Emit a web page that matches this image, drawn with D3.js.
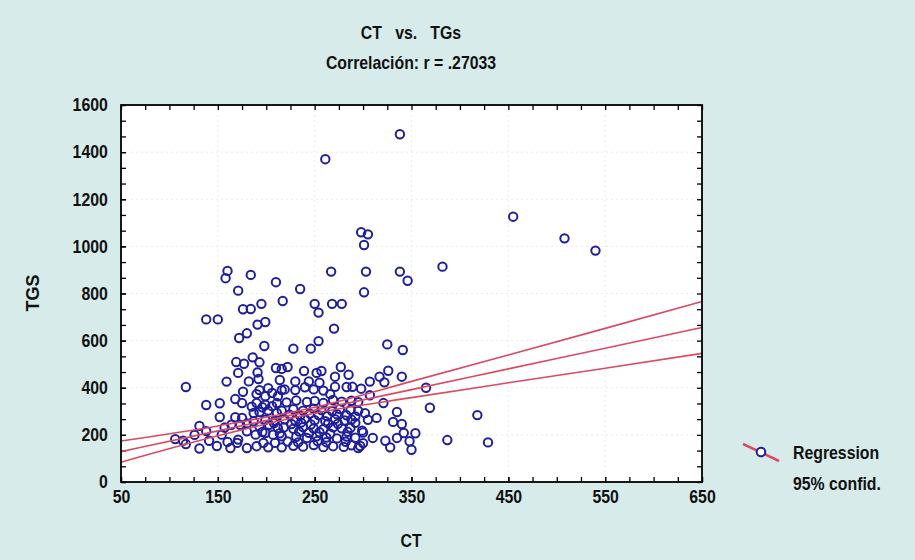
<!DOCTYPE html>
<html><head><meta charset="utf-8">
<script src="https://cdn.jsdelivr.net/npm/d3@7"></script>
<style>
body{margin:0;background:#d7ecea;}
svg{display:block;}
text{font-family:"Liberation Sans",Arial,sans-serif;font-weight:bold;fill:#111;}
</style></head><body>
<svg id="c" width="915" height="560"></svg>
<script>
// ---- data ----
const ctValues = [
 338,261,298,305,301,455,508,540,382,160,158,184,267,303,338,346,171,210,235,301,
 217,176,184,195,250,254,268,278,138,150,191,199,270,172,180,198,228,246,254,325,
 341,117,159,169,171,177,186,193,182,191,192,210,216,222,214,239,252,257,230,244,
 255,271,277,285,283,289,298,307,317,326,322,340,271,219,230,240,249,259,176,193,
 202,216,138,152,168,175,190,199,206,212,190,199,211,152,168,175,187,193,202,211,
 216,131,138,106,114,117,126,131,141,149,154,157,164,163,171,173,180,180,189,193,
 199,203,207,212,216,190,197,202,209,216,187,199,209,266,307,321,335,305,314,331,
 340,299,310,323,335,342,348,328,350,295,354,365,369,418,387,429,
 221,231,242,250,259,269,278,288,295,
 228,238,249,257,268,276,287,295,
 219,230,240,250,261,271,281,288,
 218,228,238,249,259,269,278,287,
 231,242,252,262,273,283,292,
 228,238,249,259,269,280,288,297,
 185,196,206,224,235,245,254,263,273,283,292,302,
 180,208,226,236,246,264,274,292,
 196,214,234,244,255,266,284,300,
 160,170,222,233,253,262,282,300
];
const tgsValues = [
 1476,1370,1060,1051,1006,1126,1034,982,914,896,865,879,893,893,893,854,812,848,819,805,
 768,733,734,756,756,719,756,756,690,690,668,679,651,611,631,577,566,566,598,584,
 560,403,426,509,463,502,529,508,427,465,437,484,480,488,433,471,463,471,427,427,
 421,447,488,455,403,404,396,426,447,472,423,447,404,393,390,402,393,388,383,390,
 398,390,327,334,352,335,373,364,378,364,335,328,335,276,275,272,293,297,303,293,
 303,238,216,182,175,161,200,142,175,153,201,231,243,144,180,243,215,144,201,236,
 208,243,201,229,194,152,166,147,166,147,258,264,260,373,368,335,297,264,272,255,
 246,218,187,175,187,208,173,147,137,144,207,400,315,284,178,168,
 338,346,340,344,336,348,341,345,339,
 309,303,311,305,301,310,306,302,
 266,260,268,262,258,267,261,265,
 231,226,233,227,224,232,228,230,
 192,187,194,189,185,193,188,
 154,150,157,148,152,149,156,153,
 320,317,322,286,281,290,284,279,288,283,278,292,
 248,250,246,252,244,249,247,251,
 212,207,214,209,211,205,213,210,
 170,166,172,168,174,169,171,165
];
const fitX   = [50, 150, 250, 350, 450, 550, 650];
const fitY   = [129, 217, 305, 392, 480, 568, 656];
const upperY = [174, 238, 317, 427, 539, 652, 766];
const lowerY = [84, 196, 292, 358, 421, 483, 546];
const xTicks = [50, 150, 250, 350, 450, 550, 650];
const yTicks = [0, 200, 400, 600, 800, 1000, 1200, 1400, 1600];
const titleText = "CT   vs.   TGs";
const subtitleText = "Correlación: r = .27033";
const xLabel = "CT", yLabel = "TGS";
const legendItems = ["Regression", "95% confid."];

// ---- layout ----
const L = 121, R = 702, T = 105, B = 482;
const FS = 18, SX = 0.88;
const svg = d3.select("#c");
const x = d3.scaleLinear().domain([50, 650]).range([L, R]);
const y = d3.scaleLinear().domain([0, 1600]).range([B, T]);

svg.append("rect").attr("x", L).attr("y", T).attr("width", R - L).attr("height", B - T).attr("fill", "#fff");

// faint grid
const g = svg.append("g").attr("stroke", "#ebebeb").attr("stroke-width", 1).attr("stroke-dasharray", "2,3");
g.selectAll(".gx").data(xTicks.slice(1, -1)).join("line")
  .attr("x1", d => x(d)).attr("x2", d => x(d)).attr("y1", T).attr("y2", B);
g.selectAll(".gy").data(yTicks.slice(1, -1)).join("line")
  .attr("y1", d => y(d)).attr("y2", d => y(d)).attr("x1", L).attr("x2", R);

// minor tick values
const xMinor = d3.range(50, 650.1, 25);
const yMinor = d3.range(0, 1600.1, 200 / 3);

function styleAxis(sel) {
  sel.select(".domain").remove();
  sel.selectAll("line").attr("stroke", "#000").attr("stroke-width", 1.3);
  sel.selectAll("text").attr("font-size", FS).attr("fill", "#111")
     .attr("font-family", '"Liberation Sans",Arial,sans-serif').attr("font-weight", "bold")
     .attr("transform", `scale(${SX},1)`);
}
// bottom
svg.append("g").attr("transform", `translate(0,${B})`)
  .call(d3.axisBottom(x).tickValues(xMinor).tickFormat("").tickSizeInner(-5).tickSizeOuter(0)).call(styleAxis);
svg.append("g").attr("transform", `translate(0,${B})`)
  .call(d3.axisBottom(x).tickValues(xTicks).tickFormat(d3.format("d")).tickSizeInner(-5).tickSizeOuter(0).tickPadding(8)).call(styleAxis);
// top
svg.append("g").attr("transform", `translate(0,${T})`)
  .call(d3.axisTop(x).tickValues(xMinor).tickFormat("").tickSizeInner(-5).tickSizeOuter(0)).call(styleAxis);
// left
svg.append("g").attr("transform", `translate(${L},0)`)
  .call(d3.axisLeft(y).tickValues(yMinor).tickFormat("").tickSizeInner(-5).tickSizeOuter(0)).call(styleAxis);
svg.append("g").attr("transform", `translate(${L},0)`)
  .call(d3.axisLeft(y).tickValues(yTicks).tickFormat(d3.format("d")).tickSizeInner(-5).tickSizeOuter(0).tickPadding(15)).call(styleAxis);
// right
svg.append("g").attr("transform", `translate(${R},0)`)
  .call(d3.axisRight(y).tickValues(yMinor).tickFormat("").tickSizeInner(-5).tickSizeOuter(0)).call(styleAxis);

// points
const pts = ctValues.map((c, i) => ({ c, t: tgsValues[i] }));
svg.append("g").selectAll("circle").data(pts).join("circle")
  .attr("cx", d => x(d.c)).attr("cy", d => y(d.t)).attr("r", 4.2)
  .attr("fill", "none").attr("stroke", "#1f1f9c").attr("stroke-width", 2);

// regression + confidence lines
const line = d3.line().x(d => x(d[0])).y(d => y(d[1])).curve(d3.curveMonotoneX);
[fitY, upperY, lowerY].forEach(arr => {
  svg.append("path").datum(fitX.map((v, i) => [v, arr[i]]))
    .attr("d", line).attr("fill", "none").attr("stroke", "#dc4a62").attr("stroke-width", 1.6);
});

// border
svg.append("rect").attr("x", L).attr("y", T).attr("width", R - L).attr("height", B - T)
  .attr("fill", "none").attr("stroke", "#000").attr("stroke-width", 1.8);

// free text helper (horizontally condensed)
function label(px, py, str, anchor, rot) {
  return svg.append("text")
    .attr("transform", `translate(${px},${py})${rot ? " rotate(" + rot + ")" : ""} scale(${SX},1)`)
    .attr("text-anchor", anchor).attr("font-size", FS).style("white-space", "pre").text(str);
}
label(411, 39, titleText, "middle");
label(411, 69, subtitleText, "middle");
label(411, 547, xLabel, "middle");
svg.append("text").attr("transform", "translate(39,293) rotate(-90)")
  .attr("text-anchor", "middle").attr("font-size", FS).text(yLabel);

// legend
svg.append("line").attr("x1", 743).attr("y1", 444).attr("x2", 779).attr("y2", 461)
  .attr("stroke", "#dc4a62").attr("stroke-width", 2.5);
svg.append("circle").attr("cx", 761).attr("cy", 452).attr("r", 4.3)
  .attr("fill", "#fff").attr("stroke", "#1f1f9c").attr("stroke-width", 2);
legendItems.forEach((d, i) => label(793, 459 + i * 31, d, "start"));
</script>
</body></html>
